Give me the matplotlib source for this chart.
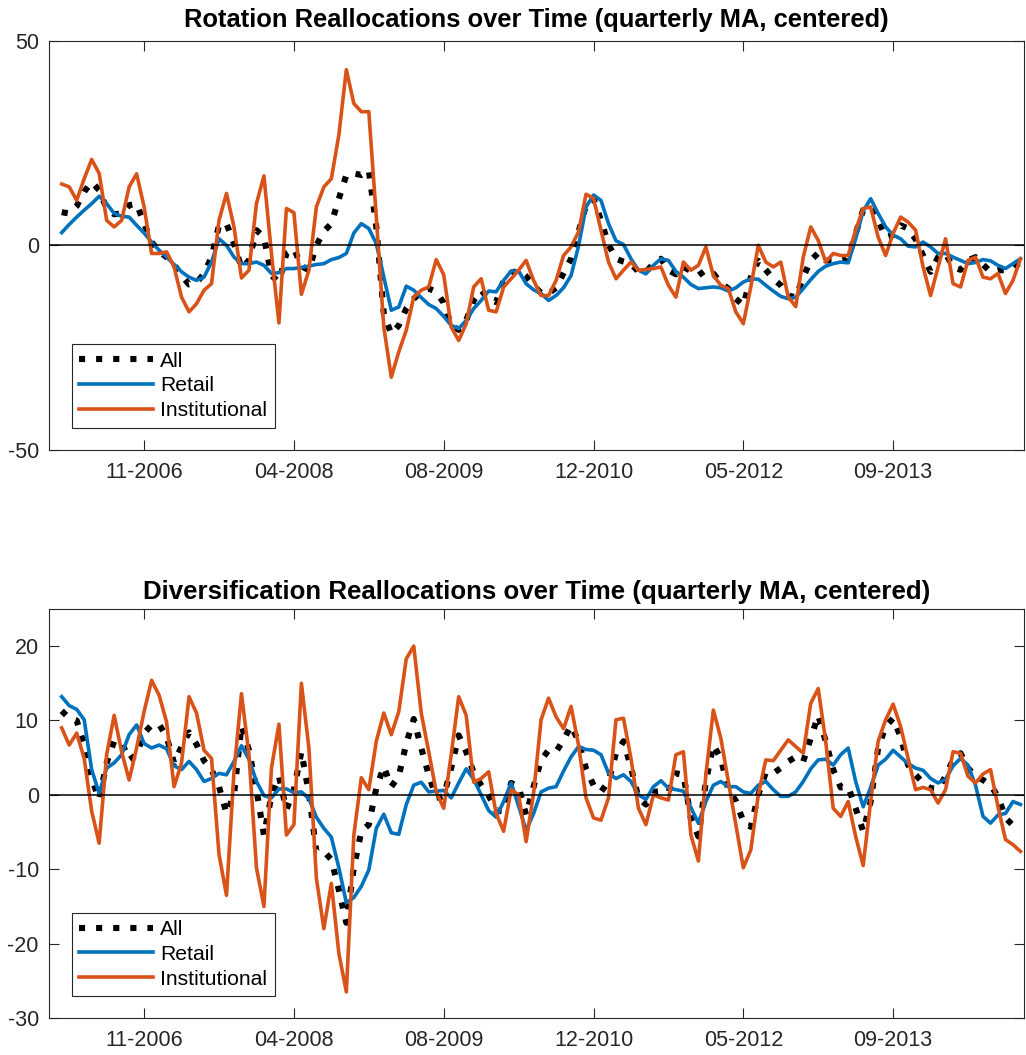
import numpy as np
import pandas as pd
import matplotlib
matplotlib.use("Agg")
import matplotlib.pyplot as plt
import matplotlib.dates as mdates

plt.rcParams['font.family'] = 'Liberation Sans'
plt.rcParams['axes.unicode_minus'] = False

# observation grid (centered quarterly MA, sampled every 25 days)
START_DATE = '2006-02-18'
STEP_DAYS = 25
TICK_START = '2006-11-20'
TICK_STEP_DAYS = 500
N_TICKS = 6

# --- Rotation reallocations ---
rot_all = [
    8.1, 7.8, 9.6, 13.1, 15.5, 13.5, 9.0, 7.6, 7.8, 9.8, 10.2,
    5.3, 0.8, -1.5, -2.9, -4.7, -7.4, -9.6, -9.2, -6.9, -2.9,
    4.9, 5.3, 0.4, -5.5, -3.7, 3.7, 2.0, -7.4, -9.0, -2.0,
    -0.8, -5.1, -6.1, 0.0, 3.4, 5.3, 11.4, 17.2, 17.6, 17.2,
    18.4, 4.5, -16.7, -21.7, -19.6, -15.5, -13.1, -11.4, -10.6, -11.4,
    -14.1, -19.6, -20.7, -18.4, -13.5, -11.0, -13.1, -13.9, -8.6, -6.8,
    -6.1, -7.6, -9.8, -11.7, -11.8, -10.4, -6.8, -3.3, 3.3, 9.8,
    11.4, 6.1, 0.2, -3.3, -4.0, -4.5, -6.5, -6.5, -4.5, -3.3,
    -6.1, -7.1, -5.3, -6.3, -7.4, -6.0, -6.9, -9.2, -10.6, -13.1,
    -14.7, -7.8, -3.8, -6.0, -8.2, -9.8, -12.3, -12.7, -7.8, -3.7,
    -1.9, -3.7, -3.7, -3.7, -3.3, 2.9, 8.6, 9.6, 6.1, 2.0,
    2.5, 4.9, 4.1, 1.5, -2.5, -6.5, -2.9, -2.0, -5.3, -6.0,
    -3.7, -2.9, -4.7, -6.5, -6.1, -6.1, -5.7, -4.1,
]
rot_retail = [
    3.1, 5.1, 6.9, 8.6, 10.2, 12.0, 10.2, 7.8, 7.1, 6.9, 4.9,
    3.0, 0.8, -1.2, -2.9, -4.7, -6.5, -7.8, -8.6, -7.8, -4.1,
    1.6, 0.0, -2.9, -4.5, -4.5, -4.1, -4.9, -6.9, -6.7, -5.7,
    -5.7, -5.4, -5.1, -4.7, -4.5, -3.5, -3.0, -2.0, 3.0, 5.3,
    4.1, 0.4, -7.8, -15.9, -15.1, -10.0, -11.0, -12.8, -14.5, -15.5,
    -17.4, -19.6, -20.4, -18.4, -15.5, -13.5, -11.2, -11.4, -8.6, -6.3,
    -6.3, -9.4, -10.9, -11.8, -13.5, -12.3, -10.4, -7.4, -0.2, 9.4,
    12.3, 11.0, 5.3, 1.1, 0.2, -3.3, -6.1, -7.0, -4.9, -3.3,
    -3.7, -6.4, -7.8, -9.6, -10.6, -10.4, -10.2, -10.4, -11.2, -10.4,
    -9.0, -8.2, -8.3, -9.8, -11.2, -12.5, -13.1, -12.7, -10.6, -8.4,
    -6.4, -5.1, -4.5, -4.1, -4.3, 1.6, 8.4, 11.4, 7.8, 4.5,
    2.5, 1.6, -0.2, -0.4, 0.8, -0.4, -2.0, -2.0, -2.9, -3.7,
    -4.5, -4.2, -3.5, -3.8, -4.9, -5.7, -4.5, -3.3,
]
rot_inst = [
    15.0, 14.3, 11.0, 16.3, 21.0, 17.6, 6.1, 4.5, 6.1, 14.3, 17.5,
    9.4, -2.0, -2.0, -1.6, -5.3, -12.7, -16.3, -14.3, -11.0, -9.4,
    6.1, 12.7, 4.5, -8.0, -6.1, 10.2, 17.0, -2.0, -19.0, 9.0,
    8.0, -12.0, -6.1, 9.4, 14.3, 16.3, 27.0, 43.0, 34.7, 32.7,
    32.7, 6.9, -20.0, -32.3, -26.1, -20.8, -12.7, -11.0, -10.2, -3.5,
    -7.2, -20.0, -23.3, -19.2, -10.2, -8.2, -15.9, -16.3, -10.2, -8.2,
    -6.1, -3.7, -8.6, -12.3, -12.3, -8.6, -2.5, -0.4, 3.3, 12.5,
    11.5, 3.7, -4.1, -8.2, -6.1, -4.1, -6.1, -5.9, -5.7, -5.3,
    -9.8, -12.7, -4.1, -6.1, -4.9, -0.4, -7.4, -9.8, -10.6, -16.3,
    -19.2, -10.2, 0.0, -4.1, -5.3, -4.1, -12.7, -15.0, -2.9, 4.5,
    1.2, -4.1, -2.0, -2.5, -2.5, 3.7, 9.0, 9.4, 2.0, -2.5,
    2.9, 6.9, 5.7, 3.7, -5.3, -12.3, -5.3, 1.6, -9.4, -10.2,
    -3.7, -2.9, -7.8, -8.2, -6.9, -11.8, -8.6, -3.3,
]

# --- Diversification reallocations ---
div_all = [
    11.3, 10.3, 10.0, 6.7, 2.2, -0.6, 4.3, 7.2, 7.1, 4.7, 5.4,
    8.3, 9.4, 9.5, 7.8, 4.3, 6.5, 8.4, 6.8, 4.6, 3.4,
    1.1, -2.5, 0.0, 9.3, 6.0, 0.7, -5.4, -0.1, 2.5, -2.0,
    0.7, 5.8, 0.2, -7.6, -7.6, -8.7, -12.8, -17.2, -9.8, -4.9,
    -4.0, 0.9, 3.8, 1.1, 2.5, 6.9, 10.2, 6.3, 2.7, -0.4,
    -0.2, 3.6, 8.0, 5.8, 3.0, 1.3, -0.1, -2.1, -2.2, 1.6,
    1.1, -2.7, 1.1, 4.7, 6.0, 5.8, 7.4, 9.3, 7.2, 3.5,
    1.3, 0.4, 1.8, 5.6, 7.2, 3.7, -0.4, -1.3, 0.4, 0.5,
    0.4, 2.9, 2.7, -3.1, -5.6, 1.8, 6.7, 4.9, 0.7, -0.8,
    -3.6, -4.3, 0.0, 3.0, 2.9, 3.6, 4.5, 5.1, 4.5, 7.6,
    10.7, 7.2, 3.4, 1.0, 1.1, -1.8, -4.9, -0.9, 6.3, 9.2,
    10.3, 7.8, 4.0, 2.7, 1.6, 0.9, 0.8, 2.5, 4.7, 5.6,
    3.6, 2.5, 2.0, 1.3, -0.2, -3.1, -4.1, -3.8,
]
div_retail = [
    13.2, 12.0, 11.5, 10.1, 3.4, 0.2, 3.6, 4.3, 5.4, 8.1, 9.4,
    6.9, 6.3, 6.7, 6.2, 3.9, 3.4, 4.5, 3.4, 1.8, 2.2,
    2.9, 2.7, 4.5, 6.6, 4.8, 1.8, -0.1, -0.4, 0.8, 0.8,
    0.3, 0.4, -0.5, -3.0, -4.5, -5.7, -9.8, -14.5, -13.8, -12.3,
    -10.1, -4.5, -2.6, -5.1, -5.3, -1.3, 1.3, 1.7, 0.4, 0.5,
    0.6, -0.4, 1.6, 3.5, 2.1, 0.0, -2.1, -3.0, -0.9, 1.6,
    -1.5, -4.8, -2.5, 0.4, 0.9, 1.1, 3.2, 5.1, 6.5, 6.1,
    6.0, 5.4, 2.9, 2.2, 2.7, 1.8, 0.0, -0.6, 1.1, 1.9,
    0.9, 0.7, 0.5, -1.7, -3.8, -0.9, 1.3, 1.8, 1.1, 1.1,
    0.4, 0.2, 1.3, 1.8, 0.7, -0.2, -0.2, 0.4, 1.8, 3.5,
    4.7, 4.8, 4.0, 5.4, 6.3, 1.8, -1.6, 1.0, 4.0, 4.8,
    6.0, 5.1, 4.2, 3.6, 3.3, 2.2, 1.6, 2.1, 3.9, 4.9,
    4.0, 1.3, -2.9, -3.8, -2.7, -2.5, -0.9, -1.3,
]
div_inst = [
    9.0, 6.7, 8.3, 4.9, -2.2, -6.5, 5.4, 10.7, 5.8, 2.0, 6.3,
    11.2, 15.4, 13.4, 9.8, 1.1, 4.3, 13.2, 11.0, 6.0, 4.9,
    -8.0, -13.5, 3.1, 13.6, 5.4, -9.8, -15.0, 3.6, 9.5, -5.4,
    -4.0, 15.0, 6.3, -11.2, -18.0, -11.9, -21.3, -26.5, -5.4, 2.3,
    0.7, 7.2, 11.0, 8.1, 11.2, 18.3, 20.0, 11.0, 5.8, 0.4,
    -1.8, 5.4, 13.2, 10.7, 1.7, 2.2, 3.1, -2.5, -4.9, 0.7,
    0.0, -6.3, 0.2, 10.1, 13.0, 10.5, 8.9, 11.9, 6.7, -0.4,
    -3.1, -3.4, -0.4, 10.1, 10.3, 4.9, -1.8, -4.0, 0.0, -0.4,
    -0.7, 5.4, 5.8, -5.4, -8.9, 2.7, 11.4, 7.6, 1.8, -4.0,
    -9.8, -7.4, 0.0, 4.7, 4.6, 6.0, 7.4, 6.5, 5.6, 12.3,
    14.3, 7.2, -1.8, -2.9, -0.9, -5.6, -9.5, -0.9, 7.2, 10.1,
    12.2, 9.2, 4.9, 0.7, 1.0, 0.7, -1.1, 0.7, 5.8, 5.6,
    2.5, 1.6, 2.8, 3.4, -1.6, -6.0, -6.7, -7.6,
]

dates = pd.date_range(START_DATE, periods=len(rot_all), freq=f'{STEP_DAYS}D')
tick_dates = pd.date_range(TICK_START, periods=N_TICKS, freq=f'{TICK_STEP_DAYS}D')
x_left = pd.Timestamp(TICK_START) - pd.Timedelta(days=319)
x_right = pd.Timestamp(TICK_START) + pd.Timedelta(days=2937)

BLUE = '#0072BD'
ORANGE = '#D95319'
AX_COLOR = '#262626'


def draw_panel(ax, all_vals, retail_vals, inst_vals, title, title_size, title_pad, ylim, yticks):
    ax.plot(dates, all_vals, color='black', linewidth=4.4,
            linestyle=(0, (1, 1.8)), dash_capstyle='butt', label='All')
    ax.plot(dates, retail_vals, color=BLUE, linewidth=2.6,
            solid_joinstyle='round', label='Retail')
    ax.plot(dates, inst_vals, color=ORANGE, linewidth=2.6,
            solid_joinstyle='round', label='Institutional')
    ax.axhline(0, color='black', linewidth=1.1, zorder=5)

    ax.set_xlim(x_left, x_right)
    ax.set_ylim(*ylim)
    ax.set_yticks(yticks)
    ax.set_xticks(tick_dates)
    ax.xaxis.set_major_formatter(mdates.DateFormatter('%m-%Y'))

    ax.tick_params(direction='in', length=7, width=0.8, top=True, right=True,
                   labelsize=15.5, color=AX_COLOR, labelcolor=AX_COLOR)
    ax.tick_params(axis='x', pad=9)
    ax.tick_params(axis='y', pad=7)
    for sp in ax.spines.values():
        sp.set_color(AX_COLOR)
        sp.set_linewidth(0.8)

    ax.set_title(title, fontsize=title_size, fontweight='bold', pad=title_pad, color='black')
    leg = ax.legend(loc='lower left', bbox_to_anchor=(0.0238, 0.0534),
                    borderaxespad=0, fontsize=15.2, handlelength=3.5,
                    handletextpad=0.34, labelspacing=0.27, borderpad=0.36,
                    fancybox=False, framealpha=1, edgecolor=AX_COLOR)
    leg.get_frame().set_linewidth(0.8)


fig = plt.figure(figsize=(10.26, 10.55), dpi=100)
ax1 = fig.add_axes([0.0473, 0.5739, 0.9508, 0.3872])
ax2 = fig.add_axes([0.0473, 0.0351, 0.9508, 0.3877])

draw_panel(ax1, rot_all, rot_retail, rot_inst,
           'Rotation Reallocations over Time (quarterly MA, centered)', 18.4, 10,
           (-50, 50), [-50, 0, 50])
draw_panel(ax2, div_all, div_retail, div_inst,
           'Diversification Reallocations over Time (quarterly MA, centered)', 18.6, 7,
           (-30, 25), [-30, -20, -10, 0, 10, 20])

fig.savefig('out.png', dpi=100)
